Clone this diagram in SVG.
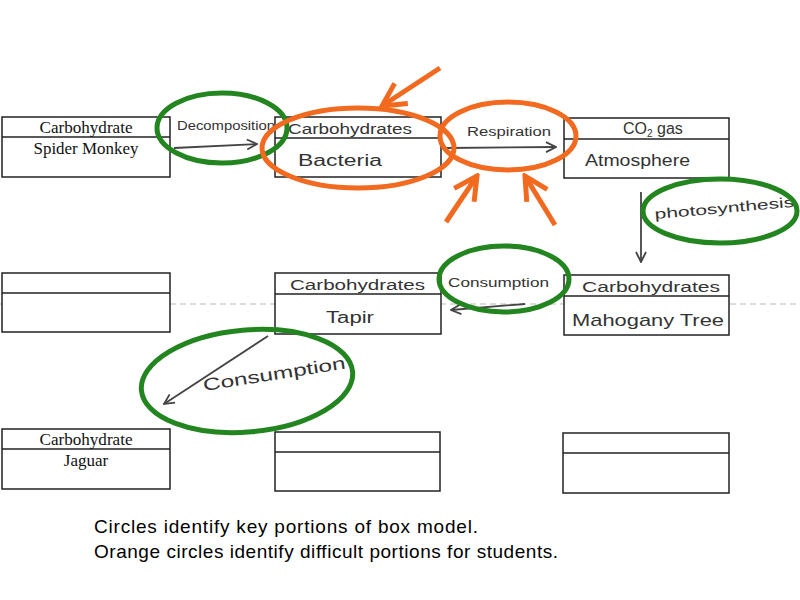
<svg xmlns="http://www.w3.org/2000/svg" width="800" height="600" viewBox="0 0 800 600">
<defs>
<style>
.box{fill:#fff;stroke:#222;stroke-width:1.5}
.div{stroke:#222;stroke-width:1.5}
.typed{font-family:"Liberation Serif",serif;font-size:17px;fill:#111;text-anchor:middle}
.hand{font-family:"Liberation Sans",sans-serif;fill:#333;}
.conn{fill:none;stroke:#444;stroke-width:1.8}
.green{fill:none;stroke:#23851f;stroke-width:5}
.orange{fill:none;stroke:#f26a1f;stroke-width:5}
.oarrow{fill:none;stroke:#f26a1f;stroke-width:5}
.note{font-family:"Liberation Sans",Arial,sans-serif;font-size:19px;fill:#000}
</style>
<marker id="chev" viewBox="0 0 12 12" refX="11" refY="6" markerWidth="12" markerHeight="12" markerUnits="userSpaceOnUse" orient="auto">
<path d="M1,1 L11,6 L1,11" fill="none" stroke="#444" stroke-width="1.8"/>
</marker>
<marker id="ochev" viewBox="0 0 30 30" refX="27" refY="15" markerWidth="30" markerHeight="30" markerUnits="userSpaceOnUse" orient="auto">
<path d="M4,3 L27,15 L4,27" fill="none" stroke="#f26a1f" stroke-width="5" stroke-linejoin="miter"/>
</marker>
</defs>
<rect width="800" height="600" fill="#fff"/>
<line x1="0" y1="304" x2="800" y2="304" stroke="#bbb" stroke-width="1" stroke-dasharray="6,4"/>

<g id="spider-monkey">
<rect class="box" x="2" y="117" width="168" height="60"/>
<line class="div" x1="2" y1="137" x2="170" y2="137"/>
<text class="typed" x="86" y="133" textLength="93" lengthAdjust="spacingAndGlyphs">Carbohydrate</text>
<text class="typed" x="86" y="154" textLength="105" lengthAdjust="spacingAndGlyphs">Spider Monkey</text>
</g>
<g id="bacteria">
<rect class="box" x="275" y="117" width="166" height="60"/>
<line class="div" x1="275" y1="138" x2="441" y2="138"/>
<text class="hand" x="288" y="134" font-size="14" textLength="124" lengthAdjust="spacingAndGlyphs">Carbohydrates</text>
<text class="hand" x="298" y="166" font-size="16" textLength="84" lengthAdjust="spacingAndGlyphs">Bacteria</text>
</g>
<g id="atmosphere">
<rect class="box" x="564" y="118" width="165" height="60"/>
<line class="div" x1="564" y1="139" x2="729" y2="139"/>
<text class="hand" x="623" y="134" font-size="16">CO<tspan font-size="10" dy="3">2</tspan><tspan dy="-3"> gas</tspan></text>
<text class="hand" x="585" y="166" font-size="16" textLength="105" lengthAdjust="spacingAndGlyphs">Atmosphere</text>
</g>
<g id="empty-middle-left">
<rect class="box" x="2" y="273" width="168" height="59"/>
<line class="div" x1="2" y1="293" x2="170" y2="293"/>
</g>
<g id="tapir">
<rect class="box" x="275" y="273" width="166" height="61"/>
<line class="div" x1="275" y1="294" x2="441" y2="294"/>
<text class="hand" x="290" y="290" font-size="14" textLength="135" lengthAdjust="spacingAndGlyphs">Carbohydrates</text>
<text class="hand" x="326" y="323" font-size="16" textLength="48" lengthAdjust="spacingAndGlyphs">Tapir</text>
</g>
<g id="mahogany-tree">
<rect class="box" x="564" y="275" width="165" height="60"/>
<line class="div" x1="564" y1="296" x2="729" y2="296"/>
<text class="hand" x="582" y="292" font-size="14" textLength="138" lengthAdjust="spacingAndGlyphs">Carbohydrates</text>
<text class="hand" x="572" y="326" font-size="17" textLength="152" lengthAdjust="spacingAndGlyphs">Mahogany Tree</text>
</g>
<g id="jaguar">
<rect class="box" x="2" y="429" width="168" height="60"/>
<line class="div" x1="2" y1="449" x2="170" y2="449"/>
<text class="typed" x="86" y="445" textLength="93" lengthAdjust="spacingAndGlyphs">Carbohydrate</text>
<text class="typed" x="86" y="466">Jaguar</text>
</g>
<g id="empty-bottom-middle">
<rect class="box" x="275" y="432" width="165" height="59"/>
<line class="div" x1="275" y1="452" x2="440" y2="452"/>
</g>
<g id="empty-bottom-right">
<rect class="box" x="563" y="433" width="166" height="60"/>
<line class="div" x1="563" y1="453" x2="729" y2="453"/>
</g>

<g id="connectors">
<line class="conn" x1="174" y1="148" x2="257" y2="144" marker-end="url(#chev)"/>
<text class="hand" x="177" y="130" font-size="12" textLength="98" lengthAdjust="spacingAndGlyphs">Decomposition</text>
<line class="conn" x1="447" y1="148" x2="556" y2="147" marker-end="url(#chev)"/>
<text class="hand" x="467" y="136" font-size="12" textLength="84" lengthAdjust="spacingAndGlyphs">Respiration</text>
<line class="conn" x1="641" y1="192" x2="641" y2="262" marker-end="url(#chev)"/>
<text class="hand" x="655" y="219" font-size="14" textLength="140" lengthAdjust="spacingAndGlyphs" transform="rotate(-5 655 219)">photosynthesis</text>
<line class="conn" x1="525" y1="304" x2="451" y2="310" marker-end="url(#chev)"/>
<text class="hand" x="448" y="287" font-size="13" textLength="101" lengthAdjust="spacingAndGlyphs">Consumption</text>
<line class="conn" x1="268" y1="336" x2="164" y2="404" marker-end="url(#chev)"/>
<text class="hand" x="204" y="391" font-size="17" textLength="144" lengthAdjust="spacingAndGlyphs" transform="rotate(-9 204 391)">Consumption</text>
</g>

<g id="annotations">
<ellipse class="green" cx="222" cy="128" rx="65" ry="35"/>
<ellipse class="green" cx="720" cy="211" rx="77" ry="32"/>
<ellipse class="green" cx="504" cy="279" rx="65" ry="33"/>
<ellipse class="green" cx="247" cy="381" rx="106" ry="51" transform="rotate(-5 247 381)"/>
<ellipse class="orange" cx="358" cy="148" rx="96" ry="40"/>
<ellipse class="orange" cx="508" cy="136" rx="68" ry="34"/>
<line class="oarrow" x1="440" y1="68" x2="382" y2="106" marker-end="url(#ochev)"/>
<line class="oarrow" x1="446" y1="222" x2="477" y2="176" marker-end="url(#ochev)"/>
<line class="oarrow" x1="555" y1="225" x2="525" y2="176" marker-end="url(#ochev)"/>
</g>

<text class="note" x="94" y="533" textLength="384" lengthAdjust="spacing">Circles identify key portions of box model.</text>
<text class="note" x="94" y="558" textLength="464" lengthAdjust="spacing">Orange circles identify difficult portions for students.</text>
</svg>
